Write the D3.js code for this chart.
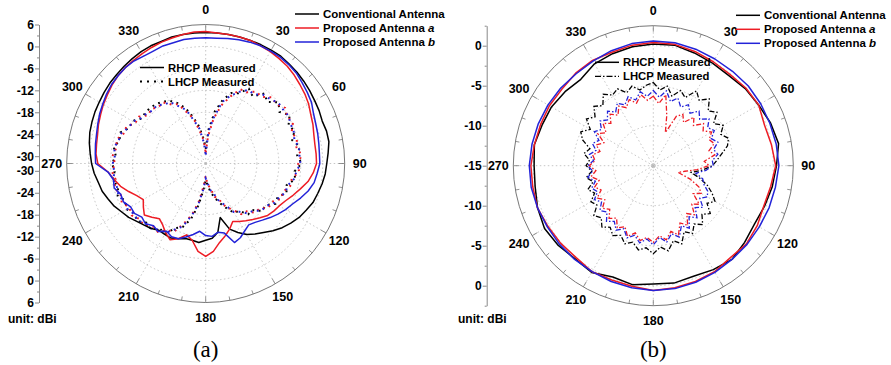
<!DOCTYPE html>
<html>
<head>
<meta charset="utf-8">
<script src="https://cdn.jsdelivr.net/npm/d3@7"></script>
<style>
  body { margin: 0; background: #fff; }
  text { font-family: Arial, "Liberation Sans", sans-serif; }
</style>
</head>
<body>
<div id="chart"></div>
<script>
// angle categories (deg, clockwise from top)
const angles5 = d3.range(0, 360, 5);
const angles10 = d3.range(0, 360, 10);
const angleLabels = d3.range(0, 360, 30);

const seriesNames = ["Conventional Antenna", "Proposed Antenna ", "Proposed Antenna "];
const seriesSuffix = ["", "a", "b"];
const seriesColors = ["#000000", "#ee1c24", "#2323d8"];

// panel (a): gain in dBi, 5 deg steps
const rhcpA_conv = [3.8,3.8,3.8,3.8,3.8,3.8,3.8,3.8,3.5,3.3,3.0,2.7,2.4,2.2,1.9,2.2,2.2,1.6,1.1,0.8,0.3,-0.3,-0.8,-1.7,-2.5,-3.6,-4.7,-6.0,-7.4,-8.5,-9.6,-11.2,-12.9,-16.7,-12.9,-11.5,-11.0,-10.3,-10.7,-10.8,-10.1,-9.5,-9.6,-9.7,-8.8,-8.2,-7.4,-6.3,-5.5,-4.4,-3.6,-2.7,-2.2,-1.4,-0.8,-0.3,0.3,0.8,1.1,1.4,1.6,1.9,2.2,2.4,2.7,3.0,3.3,3.5,3.5,3.8,3.8,3.8];
const rhcpA_a = [4.1,3.8,3.8,3.8,3.8,3.5,3.3,3.0,2.7,2.2,1.6,1.1,0.5,-0.3,-0.8,-1.4,-1.7,-1.7,-1.7,-2.5,-3.6,-5.2,-6.6,-7.9,-8.8,-9.3,-9.9,-11.0,-12.0,-12.9,-13.7,-14.5,-12.9,-11.5,-10.1,-7.9,-6.6,-7.9,-10.7,-11.8,-10.1,-9.0,-10.1,-11.5,-12.3,-11.2,-10.1,-11.2,-12.3,-11.2,-9.6,-7.9,-6.6,-5.2,-2.5,-1.9,-1.7,-1.4,-0.8,-0.3,0.3,0.8,1.4,1.9,2.2,2.4,2.7,3.0,3.3,3.5,3.8,4.1];
const rhcpA_b = [2.4,2.4,2.7,3.0,3.3,3.5,3.5,3.5,3.3,3.0,2.4,1.9,1.4,0.5,0.0,-0.3,-0.6,-0.8,-0.8,-1.4,-1.9,-3.0,-4.4,-5.8,-6.8,-7.9,-9.0,-10.1,-11.0,-11.5,-10.7,-9.6,-9.0,-12.3,-12.9,-12.0,-12.3,-13.4,-12.3,-11.2,-10.1,-9.9,-10.6,-9.3,-9.8,-8.7,-9.2,-8.2,-8.3,-7.2,-7.3,-6.1,-6.4,-5.2,-1.9,-1.7,-1.4,-1.1,-0.6,0.0,0.5,1.1,1.6,1.9,2.2,2.2,1.9,1.9,2.2,2.2,2.4,2.4];
const lhcpA_conv = [-28.0,-22.5,-17.5,-14.0,-11.5,-10.8,-8.4,-9.6,-7.0,-8.2,-6.0,-7.4,-5.5,-7.0,-6.2,-7.5,-5.9,-6.9,-5.8,-7.6,-7.2,-9.1,-8.5,-10.3,-10.0,-12.1,-11.8,-14.0,-13.9,-16.2,-16.4,-18.5,-20.4,-22.2,-24.0,-26.0,-27.5,-24.6,-20.3,-16.2,-13.5,-12.5,-9.9,-10.2,-8.6,-9.1,-7.5,-8.3,-7.0,-7.8,-6.4,-7.2,-6.2,-7.0,-6.4,-7.3,-6.5,-7.6,-7.2,-9.0,-8.8,-10.6,-10.4,-10.5,-10.8,-11.4,-12.2,-13.8,-15.9,-18.9,-21.8,-25.2];
const lhcpA_a = [-29.0,-24.4,-19.5,-15.6,-12.6,-9.6,-9.5,-8.0,-8.2,-6.4,-6.8,-5.5,-6.3,-5.7,-7.0,-6.2,-6.8,-5.7,-6.7,-6.4,-8.1,-8.1,-9.5,-9.2,-11.1,-11.0,-12.8,-13.0,-15.0,-15.1,-17.5,-18.8,-21.6,-22.6,-25.4,-26.1,-28.6,-25.9,-21.6,-17.5,-14.5,-11.4,-10.9,-9.2,-9.5,-8.1,-8.4,-7.3,-7.9,-6.7,-7.2,-6.2,-7.0,-6.3,-7.2,-6.5,-7.2,-6.8,-8.1,-8.1,-9.8,-9.7,-11.5,-10.9,-11.9,-11.6,-13.4,-14.1,-17.2,-19.3,-23.2,-25.6];
const lhcpA_b = [-29.6,-23.2,-19.2,-14.6,-12.3,-10.4,-8.8,-8.9,-7.5,-7.1,-6.1,-6.2,-5.9,-6.4,-6.4,-6.9,-6.1,-6.3,-6.1,-7.1,-7.5,-8.8,-8.8,-9.9,-10.4,-11.8,-12.0,-13.7,-14.2,-15.9,-16.7,-19.5,-20.8,-23.4,-24.6,-26.8,-27.9,-25.1,-20.8,-17.3,-13.7,-12.1,-10.1,-9.9,-8.8,-8.8,-7.7,-8.0,-7.2,-7.4,-6.6,-6.9,-6.4,-6.9,-6.6,-7.1,-6.6,-7.4,-7.5,-8.8,-9.0,-10.4,-10.8,-11.5,-11.2,-12.3,-12.6,-14.8,-16.4,-20.0,-22.4,-26.3];

// panel (b): RHCP 10 deg steps, LHCP 5 deg steps
const rhcpB_conv = [0.2,0.3,0.0,-0.2,-0.3,0.0,0.2,0.6,0.9,0.4,0.1,-0.2,-0.4,-0.1,0.3,0.0,-0.3,-0.1,-0.2,0.1,-0.2,0.4,0.2,0.5,0.7,0.4,0.0,-0.1,0.1,-0.2,-0.3,-0.6,-0.9,-0.3,-0.1,0.1];
const rhcpB_a = [0.4,0.4,0.2,0.0,-0.1,0.1,0.2,-0.2,0.0,0.3,-0.1,-0.3,0.0,0.2,0.0,0.3,0.4,0.5,0.6,0.3,0.2,0.3,0.0,0.1,0.2,0.4,0.3,0.3,0.1,0.0,0.0,-0.1,0.1,0.2,0.1,0.3];
const rhcpB_b = [0.6,0.6,0.5,0.4,0.4,0.5,0.5,0.5,0.6,0.7,0.5,0.4,0.3,0.3,0.3,0.4,0.5,0.6,0.6,0.5,0.4,0.3,0.3,0.3,0.3,0.4,0.5,0.5,0.4,0.3,0.2,0.1,0.0,0.1,0.3,0.5];
const lhcpB_conv = [-4.6,-5.5,-4.9,-6.0,-5.0,-5.6,-4.2,-5.0,-4.1,-5.3,-4.6,-5.8,-4.9,-5.7,-5.0,-5.4,-6.3,-7.0,-7.6,-8.8,-10.2,-9.0,-7.8,-6.9,-6.1,-6.8,-5.7,-6.4,-5.4,-6.1,-5.2,-5.9,-4.6,-5.3,-4.2,-4.8,-4.0,-4.7,-4.3,-5.1,-4.6,-5.4,-4.9,-5.6,-5.0,-5.8,-5.3,-6.4,-6.0,-6.9,-6.3,-7.2,-6.5,-7.3,-6.6,-7.0,-6.2,-6.8,-5.6,-5.0,-5.9,-4.8,-5.5,-4.5,-5.2,-4.1,-4.8,-4.4,-5.3,-4.7,-5.4,-4.9];
const lhcpB_a = [-6.3,-7.2,-6.0,-8.5,-10.6,-8.2,-7.6,-8.4,-7.1,-7.9,-6.8,-7.4,-6.6,-7.3,-6.9,-7.8,-7.2,-8.6,-8.0,-9.5,-11.0,-11.8,-10.1,-8.7,-8.1,-8.9,-7.5,-8.2,-7.0,-7.7,-6.4,-7.1,-5.8,-6.5,-5.6,-6.2,-5.4,-6.0,-5.5,-6.3,-5.6,-6.6,-6.0,-7.0,-6.4,-7.3,-6.7,-7.6,-6.9,-7.8,-7.2,-8.0,-7.1,-7.8,-7.0,-7.7,-7.3,-8.1,-7.4,-8.2,-7.0,-7.8,-6.8,-7.5,-6.6,-7.3,-6.4,-7.0,-6.2,-6.9,-6.0,-6.8];
const lhcpB_b = [-5.6,-6.4,-5.5,-6.7,-6.0,-6.9,-6.2,-7.0,-6.1,-6.8,-5.9,-6.7,-6.2,-7.0,-6.4,-7.2,-6.8,-7.6,-7.5,-8.4,-9.6,-8.6,-8.3,-7.5,-7.2,-7.9,-6.9,-7.6,-6.5,-7.2,-6.0,-6.7,-5.5,-6.2,-5.3,-6.0,-5.1,-5.8,-5.2,-6.0,-5.4,-6.3,-5.7,-6.5,-5.9,-6.8,-6.3,-7.1,-6.5,-7.3,-6.8,-7.5,-6.7,-7.4,-6.8,-7.5,-6.9,-7.6,-6.9,-7.5,-6.5,-7.1,-6.3,-6.9,-6.1,-6.8,-6.0,-6.6,-5.8,-6.5,-5.6,-6.3];

// radial axis tick labels
const ticksA = [6, 0, -6, -12, -18, -24, -30];
const minorA = [3, -3, -9, -15, -21, -27];
const ticksBTop = [0, -5, -10, -15];
const ticksBBot = [0, -5, -10];
const minorB = [2.5, -2.5, -7.5, -12.5];

const svg = d3.select("#chart").append("svg")
  .attr("width", 891).attr("height", 365);

const rad = d => d * Math.PI / 180;

function drawPanel(p) {
  const r = d3.scaleLinear().domain(p.domain).range([0, p.R]);
  const g = svg.append("g").attr("transform", "translate(" + p.cx + "," + p.cy + ")");

  // dotted grid circles and spokes
  g.selectAll(".gc").data(p.grid).enter().append("circle")
    .attr("r", d => r(d))
    .attr("fill", "none").attr("stroke", "#b8b8b8")
    .attr("stroke-width", 0.8).attr("stroke-dasharray", "1.5,2.5");
  g.selectAll(".sp").data(angleLabels).enter().append("line")
    .attr("x1", 0).attr("y1", 0)
    .attr("x2", d => p.R * Math.sin(rad(d)))
    .attr("y2", d => -p.R * Math.cos(rad(d)))
    .attr("stroke", "#b8b8b8").attr("stroke-width", 0.8).attr("stroke-dasharray", "1.5,2.5");
  if (p.centerDot) {
    g.append("circle").attr("r", 2).attr("fill", "none").attr("stroke", "#aaa").attr("stroke-width", 0.8);
  }

  // outer circle + angular ticks
  g.append("circle").attr("r", p.R).attr("fill", "none")
    .attr("stroke", "#777").attr("stroke-width", 1);
  g.selectAll(".at").data(angles10).enter().append("line")
    .attr("x1", d => p.R * Math.sin(rad(d)))
    .attr("y1", d => -p.R * Math.cos(rad(d)))
    .attr("x2", d => (p.R - (d % 30 === 0 ? 6 : 4)) * Math.sin(rad(d)))
    .attr("y2", d => -(p.R - (d % 30 === 0 ? 6 : 4)) * Math.cos(rad(d)))
    .attr("stroke", "#777").attr("stroke-width", 0.8);

  g.selectAll(".al").data(angleLabels).enter().append("text")
    .attr("x", d => (p.R + 15) * Math.sin(rad(d)))
    .attr("y", d => -(p.R + 15) * Math.cos(rad(d)))
    .attr("dy", "0.36em")
    .attr("text-anchor", "middle")
    .attr("font-size", "12.5px").attr("font-weight", "bold")
    .text(d => d);

  // curves
  const line = d3.lineRadial()
    .angle(d => rad(d[0]))
    .radius(d => Math.max(0, r(d[1])))
    .curve(d3.curveLinearClosed);

  p.lhcp.forEach((vals, i) => {
    g.append("path")
      .attr("d", line(p.lhcpAngles.map((a, k) => [a, vals[k]])))
      .attr("fill", "none").attr("stroke", seriesColors[i])
      .attr("stroke-width", p.lhcpWidth).attr("stroke-dasharray", p.lhcpDash);
  });
  p.rhcp.forEach((vals, i) => {
    g.append("path")
      .attr("d", line(p.rhcpAngles.map((a, k) => [a, vals[k]])))
      .attr("fill", "none").attr("stroke", seriesColors[i])
      .attr("stroke-width", 1.5).attr("stroke-linejoin", "round");
  });

  // radial axis on the left: upper and lower half
  const yTop = d3.scaleLinear().domain(p.domain).range([p.cy, p.cy - p.R]);
  const yBot = d3.scaleLinear().domain(p.domain).range([p.cy, p.cy + p.R]);
  [[yTop, p.ticksTop], [yBot, p.ticksBot]].forEach(([sc, tv]) => {
    const ax = svg.append("g").attr("transform", "translate(" + p.axisX + ",0)");
    ax.call(d3.axisLeft(sc).tickValues(tv).tickFormat(d => String(d)).tickSize(4).tickSizeOuter(0));
    ax.select(".domain").attr("stroke", "#888");
    ax.selectAll(".tick line").attr("stroke", "#888");
    ax.selectAll(".tick text").attr("font-size", "12px").attr("font-weight", "bold")
      .attr("fill", "#000").attr("x", -5);
    const mn = svg.append("g").attr("transform", "translate(" + p.axisX + ",0)");
    mn.call(d3.axisLeft(sc).tickValues(p.minor).tickFormat("").tickSize(2).tickSizeOuter(0));
    mn.select(".domain").remove();
    mn.selectAll(".tick line").attr("stroke", "#888");
  });

  svg.append("text").attr("x", p.unitX).attr("y", 323)
    .attr("font-size", "12px").attr("font-weight", "bold").text("unit: dBi");

  svg.append("text").attr("x", p.cx).attr("y", 357)
    .attr("text-anchor", "middle").attr("font-size", "23px")
    .style("font-family", "'Liberation Serif', 'Times New Roman', serif")
    .text(p.caption);

  // antenna legend
  seriesNames.forEach((name, i) => {
    const y = p.legY + i * 14;
    svg.append("line").attr("x1", p.legX).attr("x2", p.legX + 24).attr("y1", y).attr("y2", y)
      .attr("stroke", seriesColors[i]).attr("stroke-width", 1.5);
    const t = svg.append("text").attr("x", p.legX + 28).attr("y", y + 4)
      .attr("font-size", "11.5px").attr("font-weight", "bold").text(name);
    if (seriesSuffix[i]) t.append("tspan").attr("font-style", "italic").text(seriesSuffix[i]);
  });

  // polarisation legend
  [["RHCP Measured", null, 1.5], ["LHCP Measured", p.lhcpLegDash, p.lhcpWidth]].forEach((d, i) => {
    const y = p.pol[1] + i * 14;
    svg.append("line").attr("x1", p.pol[0]).attr("x2", p.pol[0] + 24).attr("y1", y).attr("y2", y)
      .attr("stroke", "#000").attr("stroke-width", d[2]).attr("stroke-dasharray", d[1]);
    svg.append("text").attr("x", p.pol[0] + 28).attr("y", y + 4)
      .attr("font-size", "11.3px").attr("font-weight", "bold").text(d[0]);
  });
}

drawPanel({
  cx: 205.7, cy: 163.5, R: 139, domain: [-32, 6], grid: [-24, -18, -12, -6, 0],
  axisX: 39, ticksTop: ticksA, ticksBot: ticksA, minor: minorA, unitX: 8, caption: "(a)",
  rhcpAngles: angles5, rhcp: [rhcpA_conv, rhcpA_a, rhcpA_b],
  lhcpAngles: angles5, lhcp: [lhcpA_conv, lhcpA_a, lhcpA_b],
  lhcpWidth: 2, lhcpDash: "1.8,4.5", lhcpLegDash: "2,5",
  legX: 295, legY: 14, pol: [140, 67.5]
});

drawPanel({
  cx: 653.3, cy: 165.7, R: 140, domain: [-15, 2.5], grid: [-10, -5, 0],
  axisX: 486.7, ticksTop: ticksBTop, ticksBot: ticksBBot, minor: minorB, unitX: 458, caption: "(b)",
  rhcpAngles: angles10, rhcp: [rhcpB_conv, rhcpB_a, rhcpB_b],
  lhcpAngles: angles5, lhcp: [lhcpB_conv, lhcpB_a, lhcpB_b],
  lhcpWidth: 1.3, lhcpDash: "5,2,1.5,2", lhcpLegDash: "6,2,1.5,2",
  legX: 736, legY: 15.3, pol: [595, 62.3], centerDot: true
});
</script>
</body>
</html>
